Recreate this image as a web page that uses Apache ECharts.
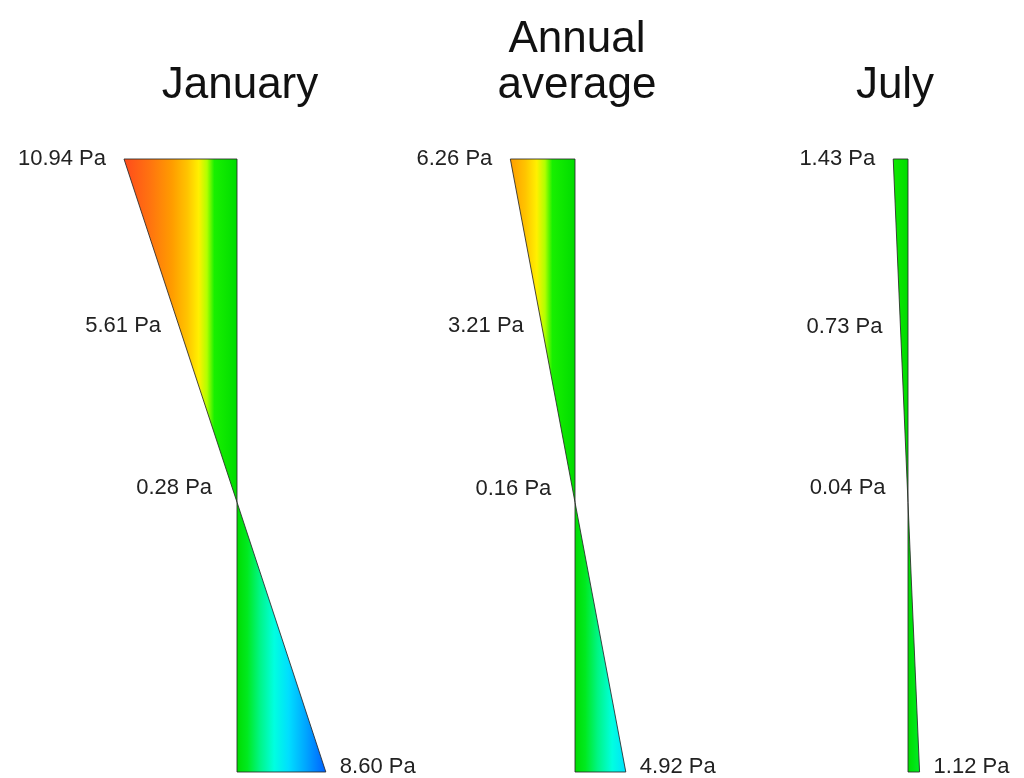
<!DOCTYPE html>
<html>
<head>
<meta charset="utf-8">
<script src="https://cdn.jsdelivr.net/npm/echarts@6/dist/echarts.min.js"></script>
<style>
  html, body { margin: 0; padding: 0; background: #ffffff; }
  #chart { width: 1024px; height: 778px; }
</style>
</head>
<body>
<div id="chart"></div>
<script>
// ---- data ----
const panelTitles = ['January', 'Annual\naverage', 'July'];
const topValues = [10.94, 6.26, 1.43];       // surface value (Pa), drawn to the left
const midValues = [5.61, 3.21, 0.73];        // intermediate label value (Pa)
const nearZeroValues = [0.28, 0.16, 0.04];   // value labelled near the crossing (Pa)
const bottomValues = [8.60, 4.92, 1.12];     // bottom value (Pa), opposite sign, drawn to the right
const unit = ' Pa';

// ---- layout / style ----
const panelCenters = [237, 575, 908];
const titleCenters = [240, 577, 895];
const axisHalfRange = 11;       // Pa each side of the baseline
const pxPerPa = 10.33;
const plotTop = 159, plotHeight = 613;
const labelFont = '22px "Liberation Sans", Arial, sans-serif';
const labelColor = '#222222';

// colour scale by value (Pa)
const colorScale = [
  [11, '#ff4a1c'], [8.5, '#ff7210'], [6.3, '#ff9c00'], [4.8, '#ffc400'],
  [3.7, '#fff000'], [2.9, '#b0ff00'], [2.2, '#18f000'], [0, '#00dc00'],
  [-1, '#00ea20'], [-2.2, '#00f585'], [-3.6, '#00ffe0'], [-5, '#00deff'],
  [-6.6, '#00a8ff'], [-8.6, '#0060ff'], [-11, '#0040ff']
];

const grids = [], xAxes = [], yAxes = [], series = [];
panelCenters.forEach((c, i) => {
  const half = axisHalfRange * pxPerPa;
  grids.push({ left: c - half, width: 2 * half, top: plotTop, height: plotHeight });
  xAxes.push({ type: 'value', gridIndex: i, min: -axisHalfRange, max: axisHalfRange, inverse: true, show: false });
  yAxes.push({ type: 'value', gridIndex: i, min: 0, max: 1, inverse: true, show: false });
  series.push({
    type: 'custom',
    coordinateSystem: 'cartesian2d',
    xAxisIndex: i, yAxisIndex: i,
    silent: true,
    data: [[topValues[i], midValues[i], nearZeroValues[i], bottomValues[i]]],
    renderItem: function (params, api) {
      const top = api.value(0), mid = api.value(1), nz = api.value(2), bot = api.value(3);
      const span = top + bot;
      const dCross = top / span;
      const depthOf = v => (top - v) / span;  // linear profile
      const A = api.coord([0, 0]);
      const B = api.coord([top, 0]);
      const C = api.coord([0, dCross]);
      const D = api.coord([0, 1]);
      const E = api.coord([-bot, 1]);
      const xL = api.coord([axisHalfRange, 0])[0];
      const xR = api.coord([-axisHalfRange, 0])[0];
      const stops = colorScale.map(s => ({ offset: (axisHalfRange - s[0]) / (2 * axisHalfRange), color: s[1] }));
      const fill = new echarts.graphic.LinearGradient(xL, 0, xR, 0, stops, true);
      const edge = { fill: fill, stroke: 'rgba(40,40,40,0.85)', lineWidth: 1 };
      const pMid = api.coord([mid, depthOf(mid)]);
      const pNz = api.coord([nz, depthOf(nz)]);
      const txt = (x, y, t, align) => ({
        type: 'text', x: x, y: y,
        style: { text: t, font: labelFont, fill: labelColor, align: align, verticalAlign: 'middle' }
      });
      return {
        type: 'group',
        children: [
          { type: 'polygon', shape: { points: [A, B, C] }, style: edge },
          { type: 'polygon', shape: { points: [C, D, E] }, style: edge },
          txt(B[0] - 18, B[1], top.toFixed(2) + unit, 'right'),
          txt(pMid[0] - 18, pMid[1], mid.toFixed(2) + unit, 'right'),
          txt(pNz[0] - 22, pNz[1] - 5, nz.toFixed(2) + unit, 'right'),
          txt(E[0] + 14, E[1] - 5, bot.toFixed(2) + unit, 'left')
        ]
      };
    }
  });
});

const titleLineHeight = 46;
const titles = panelTitles.map((t, i) => {
  const lines = t.split('\n').length;
  return {
    text: t, left: titleCenters[i], top: 63 - (lines - 1) * titleLineHeight,
    textAlign: 'center', padding: 0,
    textStyle: { fontSize: 44, fontWeight: 'normal', fontFamily: '"Liberation Sans", Arial, sans-serif', color: '#111', lineHeight: titleLineHeight }
  };
});

const chart = echarts.init(document.getElementById('chart'), null, { renderer: 'canvas' });
chart.setOption({
  animation: false,
  backgroundColor: '#ffffff',
  title: titles,
  grid: grids,
  xAxis: xAxes,
  yAxis: yAxes,
  series: series
});
</script>
</body>
</html>
